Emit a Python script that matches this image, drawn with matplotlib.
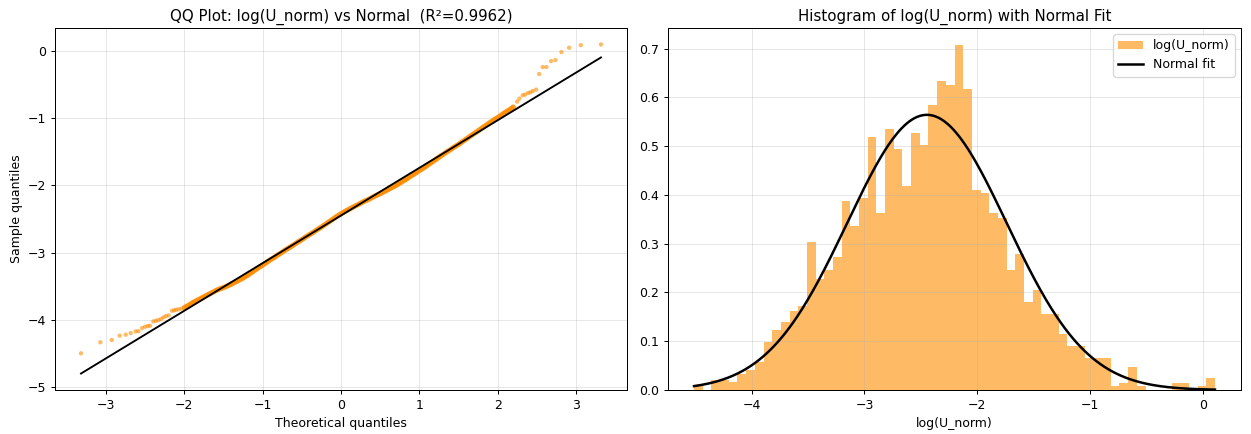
import numpy as np
import matplotlib
matplotlib.use("Agg")
import matplotlib.pyplot as plt

# ---------------- data ----------------
# Histogram (density) of log(U_norm): 60 equal bins over this range
hist_range = (-4.51, 0.105)
hist_density = [
    0.008, 0.000, 0.020, 0.020, 0.016, 0.033, 0.040, 0.057, 0.098, 0.123,
    0.139, 0.163, 0.172, 0.304, 0.228, 0.246, 0.272, 0.387, 0.337, 0.394,
    0.519, 0.362, 0.535, 0.494, 0.419, 0.527, 0.503, 0.584, 0.633, 0.626,
    0.707, 0.618, 0.411, 0.403, 0.362, 0.353, 0.246, 0.279, 0.180, 0.205,
    0.156, 0.156, 0.115, 0.090, 0.090, 0.065, 0.065, 0.065, 0.008, 0.015,
    0.048, 0.008, 0.000, 0.000, 0.000, 0.015, 0.015, 0.000, 0.008, 0.024,
]

# Normal fit parameters
fit_mu = -2.447
fit_sigma = 0.707

# QQ fit line and R^2
qq_intercept = -2.447
qq_slope = 0.707
qq_r2 = 0.9962

# QQ points: lower tail
qq_low_x = [
    -3.32, -3.073, -2.928, -2.826, -2.749, -2.685, -2.622, -2.587, -2.54, -2.502,
    -2.468, -2.439, -2.396, -2.362, -2.332, -2.298, -2.268, -2.234, -2.2, -2.157,
    -2.13, -2.106, -2.075, -2.042,
]
qq_low_y = [
    -4.494, -4.33, -4.296, -4.232, -4.217, -4.193, -4.168, -4.165, -4.119, -4.099,
    -4.089, -4.084, -4.02, -4.01, -4.0, -3.985, -3.96, -3.941, -3.931, -3.862,
    -3.855, -3.847, -3.84, -3.832,
]
# QQ points: dense middle band
qq_mid_x = [
    -2.00, -1.975, -1.95, -1.925, -1.90, -1.875, -1.85, -1.825, -1.80, -1.775,
    -1.75, -1.725, -1.70, -1.675, -1.65, -1.625, -1.60, -1.575, -1.55, -1.525,
    -1.50, -1.475, -1.45, -1.425, -1.40, -1.375, -1.35, -1.325, -1.30, -1.275,
    -1.25, -1.225, -1.20, -1.175, -1.15, -1.125, -1.10, -1.075, -1.05, -1.025,
    -1.00, -0.975, -0.95, -0.925, -0.90, -0.875, -0.85, -0.825, -0.80, -0.775,
    -0.75, -0.725, -0.70, -0.675, -0.65, -0.625, -0.60, -0.575, -0.55, -0.525,
    -0.50, -0.475, -0.45, -0.425, -0.40, -0.375, -0.35, -0.325, -0.30, -0.275,
    -0.25, -0.225, -0.20, -0.175, -0.15, -0.125, -0.10, -0.075, -0.05, -0.025,
    0.00, 0.025, 0.05, 0.075, 0.10, 0.125, 0.15, 0.175, 0.20, 0.225,
    0.25, 0.275, 0.30, 0.325, 0.35, 0.375, 0.40, 0.425, 0.45, 0.475,
    0.50, 0.525, 0.55, 0.575, 0.60, 0.625, 0.65, 0.675, 0.70, 0.725,
    0.75, 0.775, 0.80, 0.825, 0.85, 0.875, 0.90, 0.925, 0.95, 0.975,
    1.00, 1.025, 1.05, 1.075, 1.10, 1.125, 1.15, 1.175, 1.20, 1.225,
    1.25, 1.275, 1.30, 1.325, 1.35, 1.375, 1.40, 1.425, 1.45, 1.475,
    1.50, 1.525, 1.55, 1.575, 1.60, 1.625, 1.65, 1.675, 1.70, 1.725,
    1.75, 1.775, 1.80, 1.825, 1.85, 1.875, 1.90, 1.925, 1.95, 1.975,
    2.00, 2.025, 2.05, 2.075, 2.10, 2.125, 2.15, 2.175, 2.20,
]
qq_mid_y = [
    -3.815, -3.799, -3.783, -3.765, -3.747, -3.731, -3.715, -3.700, -3.685, -3.670,
    -3.654, -3.639, -3.624, -3.609, -3.594, -3.579, -3.563, -3.551, -3.538, -3.528,
    -3.518, -3.505, -3.492, -3.480, -3.467, -3.452, -3.436, -3.421, -3.406, -3.391,
    -3.376, -3.358, -3.340, -3.320, -3.300, -3.280, -3.260, -3.240, -3.219, -3.202,
    -3.184, -3.164, -3.144, -3.124, -3.103, -3.086, -3.068, -3.048, -3.028, -3.010,
    -2.992, -2.972, -2.952, -2.935, -2.917, -2.899, -2.881, -2.861, -2.841, -2.824,
    -2.806, -2.786, -2.765, -2.748, -2.730, -2.712, -2.694, -2.674, -2.654, -2.637,
    -2.619, -2.599, -2.578, -2.558, -2.538, -2.518, -2.498, -2.478, -2.457, -2.440,
    -2.422, -2.405, -2.387, -2.372, -2.356, -2.341, -2.326, -2.311, -2.296, -2.281,
    -2.265, -2.250, -2.235, -2.223, -2.210, -2.195, -2.179, -2.164, -2.149, -2.137,
    -2.124, -2.109, -2.093, -2.078, -2.063, -2.048, -2.032, -2.017, -2.002, -1.985,
    -1.967, -1.949, -1.931, -1.914, -1.896, -1.876, -1.856, -1.838, -1.820, -1.800,
    -1.780, -1.763, -1.745, -1.725, -1.704, -1.684, -1.664, -1.644, -1.624, -1.604,
    -1.583, -1.563, -1.543, -1.523, -1.503, -1.485, -1.467, -1.447, -1.427, -1.410,
    -1.392, -1.372, -1.351, -1.331, -1.311, -1.291, -1.270, -1.250, -1.230, -1.210,
    -1.190, -1.170, -1.149, -1.129, -1.109, -1.089, -1.069, -1.049, -1.028, -1.011,
    -0.993, -0.973, -0.953, -0.933, -0.912, -0.895, -0.877, -0.857, -0.837,
]
# QQ points: upper tail
qq_high_x = [
    2.249, 2.278, 2.321, 2.351, 2.389, 2.419, 2.448, 2.492, 2.53, 2.576,
    2.623, 2.683, 2.738, 2.815, 2.913, 3.062, 3.32,
]
qq_high_y = [
    -0.756, -0.711, -0.662, -0.652, -0.628, -0.618, -0.598, -0.578, -0.346, -0.243,
    -0.243, -0.154, -0.139, -0.021, 0.044, 0.083, 0.093,
]

# ---------------- figure ----------------
W, H = 1251, 434
DPI = 90
fig = plt.figure(figsize=(W / DPI, H / DPI), dpi=DPI)
ax1 = fig.add_axes([55 / W, (H - 390) / H, (627 - 55) / W, (390 - 28) / H])
ax2 = fig.add_axes([668 / W, (H - 390) / H, (1241 - 668) / W, (390 - 28) / H])

# QQ plot
# sparse tails: single, semi-transparent points
ax1.scatter(qq_low_x + qq_high_x, qq_low_y + qq_high_y, s=12, color="darkorange",
            alpha=0.6, edgecolors="none", zorder=2)
# dense middle: many overlapping points appear as a solid band
ax1.scatter(qq_mid_x, qq_mid_y, s=18, color="darkorange", alpha=0.85,
            edgecolors="none", zorder=2)
all_x = qq_low_x + qq_mid_x + qq_high_x
xl = np.array([min(all_x), max(all_x)])
ax1.plot(xl, qq_intercept + qq_slope * xl, color="black", lw=1.5, zorder=3)
ax1.set_title(f"QQ Plot: log(U_norm) vs Normal  (R²={qq_r2:.4f})", fontsize=12)
ax1.set_xlabel("Theoretical quantiles")
ax1.set_ylabel("Sample quantiles")
ax1.grid(True, alpha=0.3)

# Histogram
edges = np.linspace(hist_range[0], hist_range[1], len(hist_density) + 1)
bars = ax2.bar(edges[:-1], hist_density, width=np.diff(edges), align="edge",
               color="darkorange", alpha=0.6, linewidth=0, label="log(U_norm)")
xs = np.linspace(hist_range[0], hist_range[1], 400)
pdf = np.exp(-0.5 * ((xs - fit_mu) / fit_sigma) ** 2) / (fit_sigma * np.sqrt(2 * np.pi))
line, = ax2.plot(xs, pdf, color="black", lw=2, label="Normal fit")
ax2.set_title("Histogram of log(U_norm) with Normal Fit", fontsize=12)
ax2.set_xlabel("log(U_norm)")
ax2.grid(True, alpha=0.3)
ax2.legend(handles=[bars, line], loc="upper right")

fig.savefig("out.png", dpi=DPI)
